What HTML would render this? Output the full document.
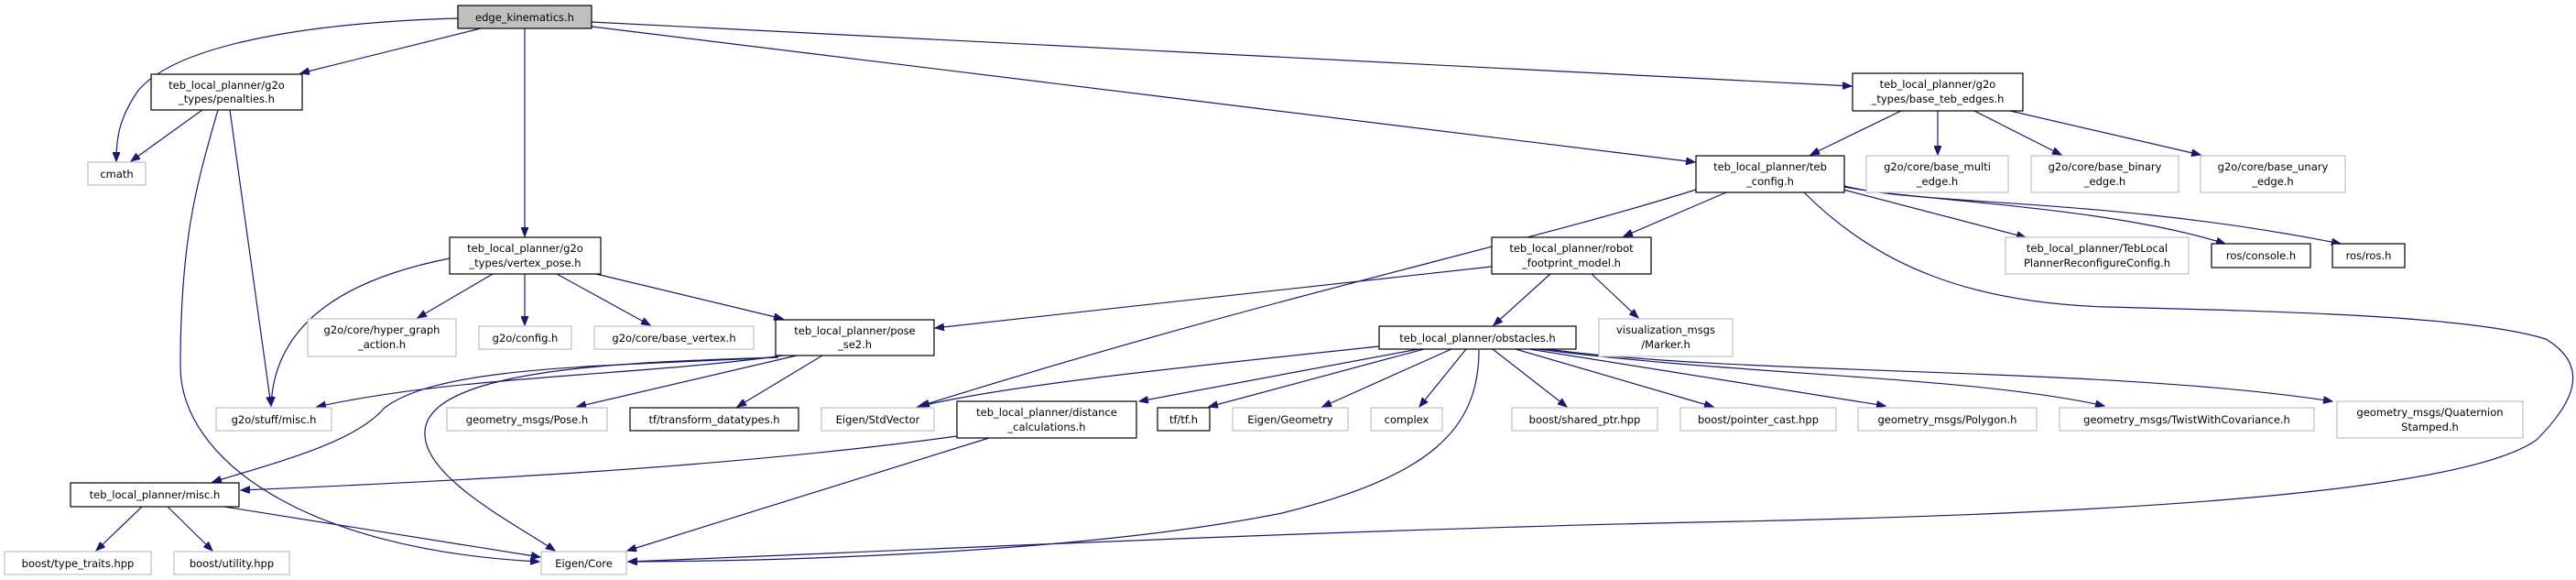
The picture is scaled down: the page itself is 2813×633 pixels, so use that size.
<!DOCTYPE html>
<html><head><meta charset="utf-8"><style>
html,body{margin:0;padding:0;background:#fff;}
svg{display:block;}
text{font-family:"DejaVu Sans","Liberation Sans",sans-serif;font-size:11.5px;fill:#000;text-anchor:middle;}
.b{fill:#fff;stroke:#000;stroke-width:1.2;}
.g{fill:#fff;stroke:#bfbfbf;stroke-width:1.2;}
.e{fill:none;stroke:#191970;stroke-width:1.2;marker-end:url(#a);}
</style></head><body>
<svg width="2813" height="633" viewBox="0 0 2813 633" xmlns="http://www.w3.org/2000/svg">
<defs><marker id="a" markerWidth="11" markerHeight="8" refX="10" refY="4" orient="auto" markerUnits="userSpaceOnUse"><path d="M0,0 L10,4 L0,8 z" fill="#191970" stroke="#191970"/></marker></defs>

<!-- edges -->
<path class="e" d="M500,20 C330,25 190,50 150,100 C130,130 127,150 127,176"/>
<path class="e" d="M525,31 L328,80"/>
<path class="e" d="M573,31 L573,258"/>
<path class="e" d="M646,29 L1851,177"/>
<path class="e" d="M646,24 L2022,94"/>

<path class="e" d="M221,120 L143,176"/>
<path class="e" d="M238,120 C215,200 197,260 197,400 C197,500 330,600 589,613"/>
<path class="e" d="M251,120 L296,443"/>

<path class="e" d="M491,282 C400,300 300,340 296,443"/>
<path class="e" d="M538,299 L456,347"/>
<path class="e" d="M573,299 L573,355"/>
<path class="e" d="M608,299 L710,355"/>
<path class="e" d="M651,299 L855,348"/>

<path class="e" d="M855,388 C700,410 500,410 346,444"/>
<path class="e" d="M850,390 C650,400 480,400 420,445 C390,480 320,500 232,526"/>
<path class="e" d="M850,390 C700,395 470,400 464,470 C460,520 560,570 606,601"/>
<path class="e" d="M870,388 L630,444"/>
<path class="e" d="M898,388 L805,444"/>

<path class="e" d="M1506,378 C1300,400 1100,420 1002,444"/>
<path class="e" d="M1549,381 L1244,438"/>
<path class="e" d="M1555,381 L1320,444"/>
<path class="e" d="M1585,381 L1444,444"/>
<path class="e" d="M1601,381 L1550,444"/>
<path class="e" d="M1615,382 C1615,470 1560,520 1400,560 C1200,600 900,612 686,613"/>
<path class="e" d="M1630,381 L1711,444"/>
<path class="e" d="M1655,381 L1871,444"/>
<path class="e" d="M1670,381 L2059,443"/>
<path class="e" d="M1680,381 C1900,410 2150,410 2298,443"/>
<path class="e" d="M1690,381 C1900,410 2300,400 2547,438"/>

<path class="e" d="M1629,291 L1021,358"/>
<path class="e" d="M1693,299 L1631,355"/>
<path class="e" d="M1738,299 L1789,347"/>

<path class="e" d="M1852,207 C1650,270 1400,320 1005,443"/>
<path class="e" d="M1885,210 L1773,258"/>
<path class="e" d="M2013,207 L2212,259"/>
<path class="e" d="M2014,204 C2100,220 2300,225 2430,266"/>
<path class="e" d="M2014,203 C2100,225 2300,215 2556,266"/>
<path class="e" d="M1970,210 C2050,290 2150,330 2300,335 C2500,340 2700,345 2780,370 C2830,400 2810,440 2770,480 C2700,530 2400,560 1850,570 C1400,580 900,605 686,613"/>

<path class="e" d="M2076,121 L1977,169"/>
<path class="e" d="M2116,121 L2116,169"/>
<path class="e" d="M2156,121 L2251,169"/>
<path class="e" d="M2195,121 L2403,169"/>

<path class="e" d="M1045,476 C800,510 500,525 263,535"/>
<path class="e" d="M1080,478 L685,601"/>

<path class="e" d="M155,553 L105,601"/>
<path class="e" d="M183,553 L232,601"/>
<path class="e" d="M245,553 L590,608"/>

<!-- nodes -->
<rect x="500" y="6" width="146" height="25" fill="#bfbfbf" stroke="#000" stroke-width="1.2"/><text x="573" y="23">edge_kinematics.h</text>
<rect class="b" x="165" y="81" width="165" height="39"/><text x="247.5" y="97">teb_local_planner/g2o</text><text x="247.5" y="112">_types/penalties.h</text>
<rect class="g" x="96" y="177" width="63" height="25"/><text x="127.5" y="194">cmath</text>
<rect class="b" x="491" y="259" width="165" height="40"/><text x="573.5" y="275">teb_local_planner/g2o</text><text x="573.5" y="291">_types/vertex_pose.h</text>
<rect class="g" x="336" y="348" width="162" height="41"/><text x="417" y="364">g2o/core/hyper_graph</text><text x="417" y="380">_action.h</text>
<rect class="g" x="523" y="356" width="101" height="25"/><text x="573.5" y="373">g2o/config.h</text>
<rect class="g" x="649" y="356" width="174" height="25"/><text x="736" y="373">g2o/core/base_vertex.h</text>
<rect class="b" x="847" y="349" width="173" height="39"/><text x="933.5" y="365">teb_local_planner/pose</text><text x="933.5" y="380">_se2.h</text>
<rect class="g" x="236" y="445" width="126" height="25"/><text x="299" y="462">g2o/stuff/misc.h</text>
<rect class="g" x="488" y="445" width="175" height="25"/><text x="575.5" y="462">geometry_msgs/Pose.h</text>
<rect class="b" x="688" y="445" width="184" height="25"/><text x="780" y="462">tf/transform_datatypes.h</text>
<rect class="g" x="897" y="445" width="123" height="25"/><text x="958.5" y="462">Eigen/StdVector</text>
<rect class="b" x="77" y="527" width="184" height="26"/><text x="169" y="544">teb_local_planner/misc.h</text>
<rect class="g" x="5" y="602" width="160" height="25"/><text x="85" y="619">boost/type_traits.hpp</text>
<rect class="g" x="190" y="602" width="126" height="25"/><text x="253" y="619">boost/utility.hpp</text>
<rect class="g" x="591" y="602" width="93" height="25"/><text x="637.5" y="619">Eigen/Core</text>
<rect class="b" x="1506" y="356" width="215" height="25"/><text x="1613.5" y="373">teb_local_planner/obstacles.h</text>
<rect class="g" x="1746" y="348" width="146" height="41"/><text x="1819" y="364">visualization_msgs</text><text x="1819" y="380">/Marker.h</text>
<rect class="b" x="1045" y="438" width="196" height="40"/><text x="1143" y="454">teb_local_planner/distance</text><text x="1143" y="470">_calculations.h</text>
<rect class="b" x="1264" y="445" width="57" height="25"/><text x="1292.5" y="462">tf/tf.h</text>
<rect class="g" x="1346" y="445" width="126" height="25"/><text x="1409" y="462">Eigen/Geometry</text>
<rect class="g" x="1497" y="445" width="78" height="25"/><text x="1536" y="462">complex</text>
<rect class="g" x="1651" y="445" width="159" height="25"/><text x="1730.5" y="462">boost/shared_ptr.hpp</text>
<rect class="g" x="1835" y="445" width="170" height="25"/><text x="1920" y="462">boost/pointer_cast.hpp</text>
<rect class="g" x="2029" y="445" width="195" height="25"/><text x="2126.5" y="462">geometry_msgs/Polygon.h</text>
<rect class="g" x="2249" y="445" width="278" height="25"/><text x="2388" y="462">geometry_msgs/TwistWithCovariance.h</text>
<rect class="g" x="2552" y="438" width="203" height="40"/><text x="2653.5" y="454">geometry_msgs/Quaternion</text><text x="2653.5" y="470">Stamped.h</text>
<rect class="b" x="1629" y="259" width="174" height="40"/><text x="1716" y="275">teb_local_planner/robot</text><text x="1716" y="291">_footprint_model.h</text>
<rect class="b" x="2023" y="80" width="186" height="41"/><text x="2116" y="96">teb_local_planner/g2o</text><text x="2116" y="112">_types/base_teb_edges.h</text>
<rect class="b" x="1852" y="170" width="162" height="40"/><text x="1933" y="186">teb_local_planner/teb</text><text x="1933" y="202">_config.h</text>
<rect class="g" x="2038" y="170" width="155" height="40"/><text x="2115.5" y="186">g2o/core/base_multi</text><text x="2115.5" y="202">_edge.h</text>
<rect class="g" x="2218" y="170" width="161" height="40"/><text x="2298.5" y="186">g2o/core/base_binary</text><text x="2298.5" y="202">_edge.h</text>
<rect class="g" x="2403" y="170" width="158" height="40"/><text x="2482" y="186">g2o/core/base_unary</text><text x="2482" y="202">_edge.h</text>
<rect class="g" x="2190" y="259" width="200" height="40"/><text x="2290" y="275">teb_local_planner/TebLocal</text><text x="2290" y="291">PlannerReconfigureConfig.h</text>
<rect class="b" x="2415" y="266" width="108" height="26"/><text x="2469" y="283">ros/console.h</text>
<rect class="b" x="2547" y="266" width="79" height="26"/><text x="2586.5" y="283">ros/ros.h</text>
</svg>
</body></html>
